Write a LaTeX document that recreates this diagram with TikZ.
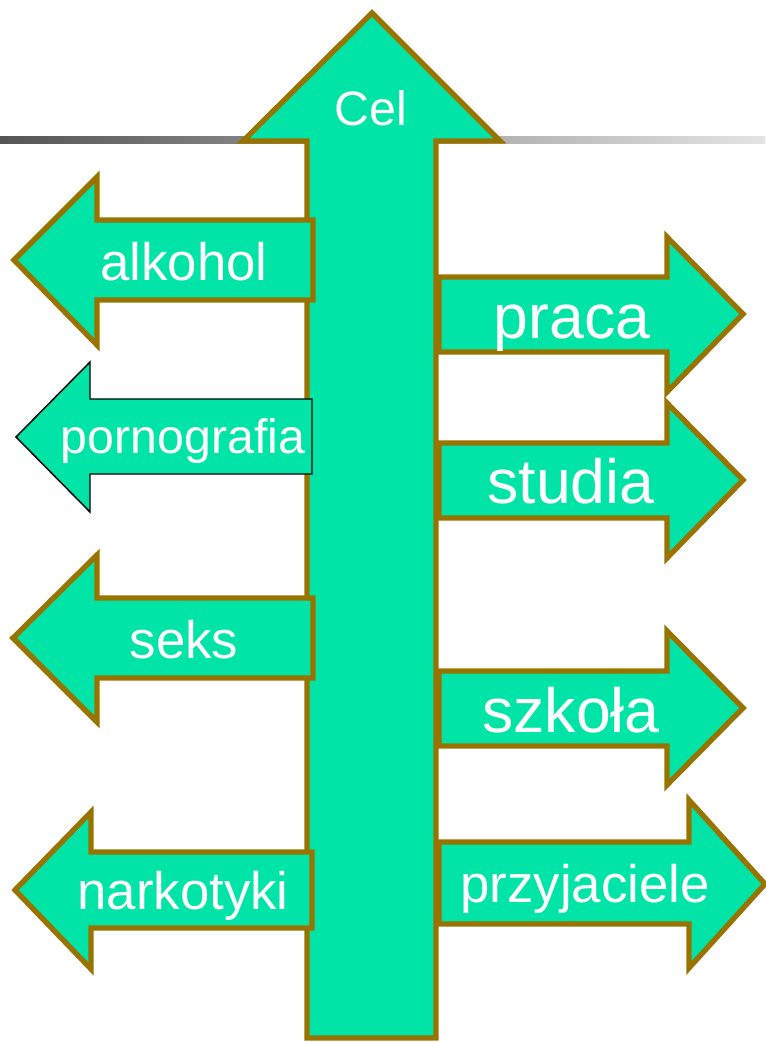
\documentclass[tikz,border=0pt]{standalone}
\usepackage{fontspec}
\setmainfont{Liberation Sans}
\definecolor{arrowfill}{RGB}{0,228,168}
\definecolor{arrowedge}{RGB}{153,115,0}
\definecolor{ruledark}{RGB}{85,85,85}
\definecolor{rulelight}{RGB}{228,228,228}

\begin{document}
\begin{tikzpicture}[x=0.75pt,y=-0.75pt,
  signpost/.style={fill=arrowfill,draw=arrowedge,line width=4pt,miter limit=20},
  thinpost/.style={fill=arrowfill,draw=black,line width=1.1pt},
  lbl/.style={text=white,anchor=base,inner sep=0pt},
  txtmid/.style={font=\fontsize{39.6}{44}\selectfont},
  txtbig/.style={font=\fontsize{46.9}{52}\selectfont},
  txtsmall/.style={font=\fontsize{36.2}{40}\selectfont}]
\useasboundingbox (0,0) rectangle (765,1042);

% title rule behind the main arrow
\shade[left color=ruledark,right color=rulelight] (0,136) rectangle (765,143);

% main upward arrow
\draw[signpost] (372,13) -- (500,141) -- (436,141) -- (436,1038)
  -- (307,1038) -- (307,141) -- (243,141) -- cycle;
\node[lbl,txtsmall] (cel) at (371,125) {Cel};

% arrows pointing left
\draw[signpost] (14,260) -- (97,177) -- (97,220) -- (313,220) -- (313,300)
  -- (97,300) -- (97,345) -- cycle;
\node[lbl,txtmid] (alkohol) at (184,280) {alkohol};

\draw[thinpost] (16,437) -- (90,362) -- (90,399) -- (312,399) -- (312,474)
  -- (90,474) -- (90,512) -- cycle;
\node[lbl,txtsmall] (pornografia) at (183,453) {pornografia};

\draw[signpost] (13,638) -- (97,555) -- (97,598) -- (313,598) -- (313,678)
  -- (97,678) -- (97,722) -- cycle;
\node[lbl,txtmid] (seks) at (184,658) {seks};

\draw[signpost] (15,890) -- (91,812) -- (91,852) -- (312,852) -- (312,928)
  -- (91,928) -- (91,969) -- cycle;
\node[lbl,txtmid] (narkotyki) at (183,909) {narkotyki};

% arrows pointing right
\draw[signpost] (743,314) -- (667,237) -- (667,277) -- (439,277) -- (439,352)
  -- (667,352) -- (667,392) -- cycle;
\node[lbl,txtbig] (praca) at (572,338) {praca};

\draw[signpost] (743,480) -- (667,403) -- (667,443) -- (439,443) -- (439,518)
  -- (667,518) -- (667,558) -- cycle;
\node[lbl,txtbig] (studia) at (571,503) {studia};

\draw[signpost] (743,708) -- (667,631) -- (667,671) -- (439,671) -- (439,746)
  -- (667,746) -- (667,785) -- cycle;
\node[lbl,txtbig] (szkola) at (571,732) {szkoła};

\draw[signpost] (765,884) -- (689,800) -- (689,842) -- (439,842) -- (439,924)
  -- (689,924) -- (689,968) -- cycle;
\node[lbl,txtmid] (przyjaciele) at (585,902) {przyjaciele};
\end{tikzpicture}
\end{document}
